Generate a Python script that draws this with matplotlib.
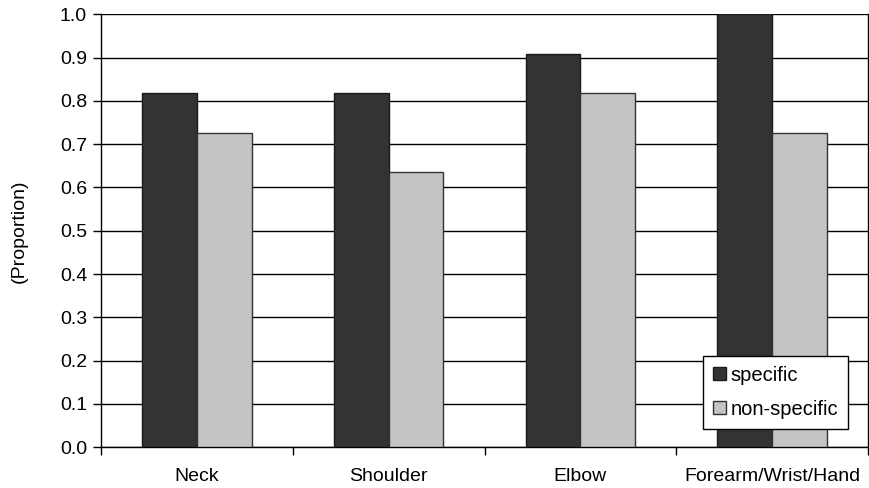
import numpy as np
import matplotlib
matplotlib.use('Agg')
import matplotlib.pyplot as plt

categories = ["Neck", "Shoulder", "Elbow", "Forearm/Wrist/Hand"]
specific = [0.818, 0.818, 0.909, 1.0]
non_specific = [0.727, 0.636, 0.818, 0.727]
yticks = [0.0, 0.1, 0.2, 0.3, 0.4, 0.5, 0.6, 0.7, 0.8, 0.9, 1.0]

plt.rcParams['font.family'] = ['Liberation Sans', 'DejaVu Sans']
plt.rcParams['font.size'] = 14

fig = plt.figure(figsize=(8.69, 4.88), dpi=100)
ax = fig.add_axes([0.1162, 0.084, 0.8827, 0.8863])

x = np.arange(len(categories))
w = 1 / 3.5
ax.bar(x - w / 2, specific, w, color='#333333', edgecolor='#1a1a1a', linewidth=1, label='specific', zorder=3)
ax.bar(x + w / 2, non_specific, w, color='#c4c4c4', edgecolor='#333333', linewidth=1, label='non-specific', zorder=3)

ax.set_xlim(-0.5, len(categories) - 0.5)
ax.set_ylim(0, 1.0)
ax.set_yticks(yticks)
ax.set_yticklabels([f"{v:.1f}" for v in yticks])
ax.yaxis.grid(True, color='black', linewidth=1, zorder=0)
ax.set_axisbelow(True)

# category labels centred, ticks at category boundaries
ax.set_xticks(x)
ax.set_xticklabels(categories)
ax.tick_params(axis='x', which='major', length=0, pad=15)
ax.set_xticks(np.arange(len(categories) + 1) - 0.5, minor=True)
ax.tick_params(axis='x', which='minor', length=6, direction='out', width=1)
ax.tick_params(axis='y', length=6, direction='out', width=1, pad=4)

ax.set_ylabel('(Proportion)', labelpad=23)

ax.spines['top'].set_visible(False)
for s in ['left', 'bottom', 'right']:
    ax.spines[s].set_color('black')
    ax.spines[s].set_linewidth(1)

leg = ax.legend(loc='lower right', bbox_to_anchor=(0.974, 0.042), borderaxespad=0,
                fancybox=False, edgecolor='black', framealpha=1, fontsize=14.5,
                handlelength=0.65, handleheight=0.65, handletextpad=0.2,
                labelspacing=0.75, borderpad=0.5)
leg.get_frame().set_linewidth(1)

fig.savefig('out.png', dpi=100)
